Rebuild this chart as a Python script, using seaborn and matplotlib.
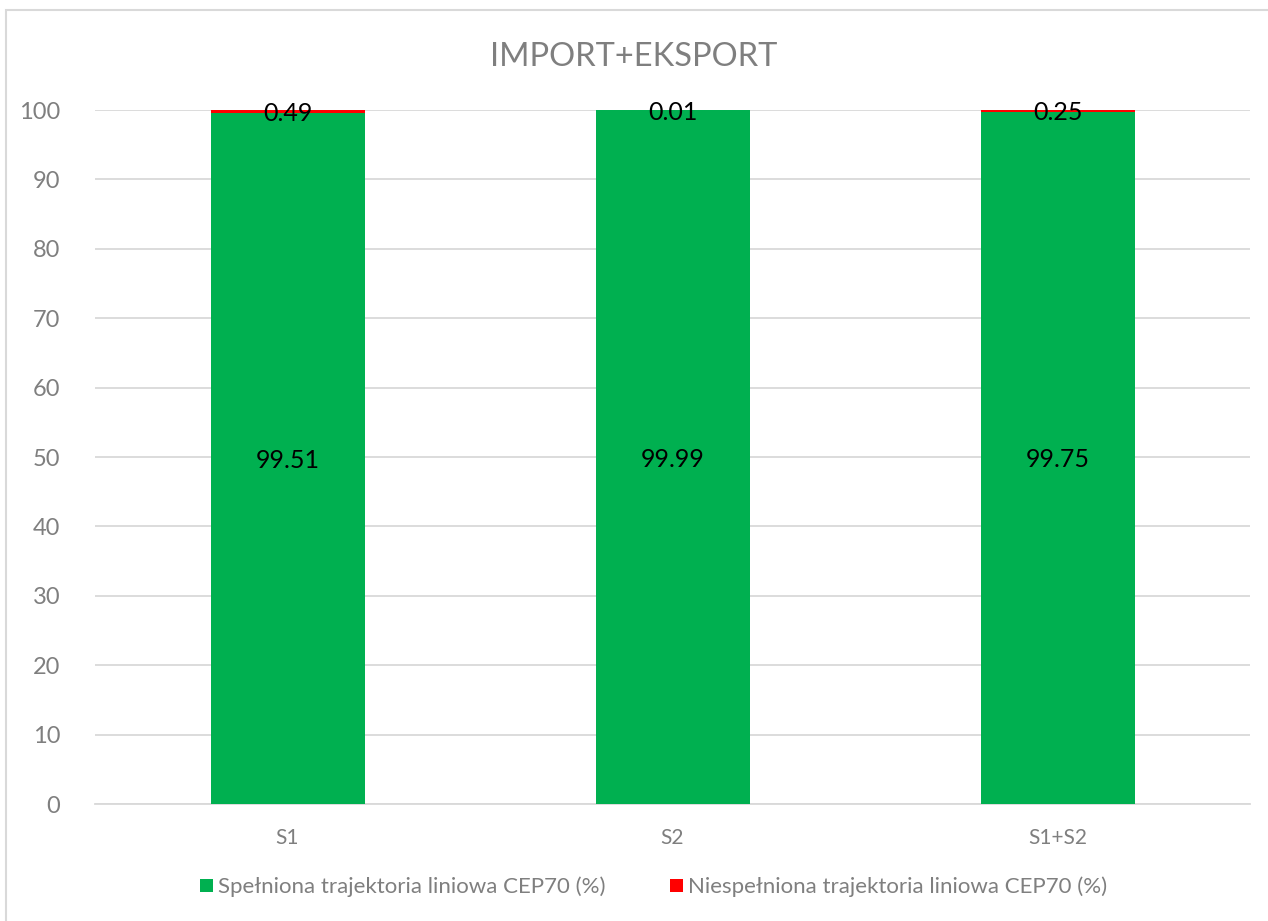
import matplotlib
matplotlib.use("Agg")
import matplotlib.pyplot as plt
from matplotlib.patches import Patch, Rectangle
import seaborn as sns
import pandas as pd

categories = ["S1", "S2", "S1+S2"]
met = [99.51, 99.99, 99.75]
not_met = [0.49, 0.01, 0.25]
series_names = ["Spełniona trajektoria liniowa CEP70 (%)",
                "Niespełniona trajektoria liniowa CEP70 (%)"]
title = "IMPORT+EKSPORT"
yticks = [0, 10, 20, 30, 40, 50, 60, 70, 80, 90, 100]

GREEN = "#00B050"
RED = "#FF0000"
GRAY = "#7F7F7F"
GRID = "#D9D9D9"

sns.set_theme(style="white")
plt.rcParams["font.family"] = ["Lato", "DejaVu Sans"]

df = pd.DataFrame({"cat": categories, "met": met, "not_met": not_met})
df["total"] = df["met"] + df["not_met"]

fig = plt.figure(figsize=(12.68, 9.21), dpi=100)
ax = fig.add_axes([95 / 1268, 1 - 804 / 921, 1155 / 1268, 694 / 921])

# stacked bars: full height in red, green portion drawn over it
sns.barplot(data=df, x="cat", y="total", color=RED, width=0.4, ax=ax,
            saturation=1, zorder=3)
sns.barplot(data=df, x="cat", y="met", color=GREEN, width=0.4, ax=ax,
            saturation=1, zorder=4)
for p in ax.patches:
    p.set_linewidth(0)
    p.set_clip_on(False)

for i, (g, r) in enumerate(zip(met, not_met)):
    ax.text(i, g / 2, f"{g:.2f}", ha="center", va="center_baseline",
            fontsize=18, color="black", zorder=6)
    ax.text(i, g + r / 2, f"{r:.2f}", ha="center", va="center_baseline",
            fontsize=18, color="black", zorder=6)

ax.set_xlim(-0.5, 2.5)
ax.set_ylim(0, 100)
ax.set_yticks(yticks)
ax.set_yticklabels([str(t) for t in yticks])
ax.yaxis.grid(True, color=GRID, linewidth=1.3, zorder=0)
ax.set_axisbelow(True)
ax.tick_params(axis="y", length=0, pad=25, labelsize=17, labelcolor=GRAY)
ax.tick_params(axis="x", length=0, pad=17, labelsize=15, labelcolor=GRAY)
ax.set_xlabel("")
ax.set_ylabel("")
for s in ["top", "right", "left"]:
    ax.spines[s].set_visible(False)
ax.spines["bottom"].set_color(GRID)
ax.spines["bottom"].set_linewidth(1.3)

fig.text(0.5, 1 - 57 / 921, title, ha="center", va="center",
         fontsize=23.5, color=GRAY)

handles = [Patch(facecolor=GREEN, edgecolor="none"),
           Patch(facecolor=RED, edgecolor="none")]
fig.legend(handles, series_names, loc="center", ncol=2,
           bbox_to_anchor=(654 / 1268, 1 - 887 / 921), frameon=False,
           fontsize=16, labelcolor=GRAY, handlelength=0.56,
           handleheight=0.56, handletextpad=0.25, columnspacing=2.9)

# chart area frame
fig.patches.append(Rectangle((6 / 1268, -0.05), 1.1, 1 - 10 / 921 + 0.05,
                             transform=fig.transFigure, fill=False,
                             edgecolor=GRID, linewidth=1.5))

fig.savefig("out.png", dpi=100, facecolor="white")
